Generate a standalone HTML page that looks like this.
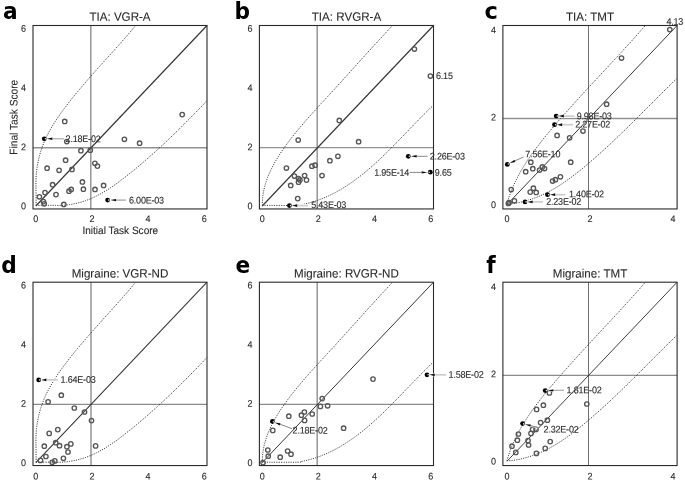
<!DOCTYPE html>
<html><head><meta charset="utf-8"><title>Task score scatter plots</title>
<style>
html,body{margin:0;padding:0;background:#fff;}
svg{display:block;font-family:"Liberation Sans",sans-serif;}
</style></head>
<body>
<svg width="685" height="481" viewBox="0 0 685 481">
<rect width="685" height="481" fill="#fff"/>
<path d="M90.80 25.50V208.95" stroke="#929292" stroke-width="1.45" fill="none"/>
<path d="M33.00 147.75H207.00" stroke="#929292" stroke-width="1.45" fill="none"/>
<path d="M36.1 205.3 C36.1 202.5 36.0 192.0 36.0 188.5 C36.0 185.0 35.9 185.7 35.9 184.3 C35.9 182.8 35.9 181.4 36.0 180.0 C36.0 178.6 36.1 177.2 36.2 175.8 C36.3 174.4 36.4 173.1 36.5 171.7 C36.7 170.3 36.9 168.9 37.1 167.5 C37.3 166.2 37.5 164.8 37.8 163.5 C38.0 162.1 38.3 160.7 38.6 159.4 C38.9 158.1 39.2 156.7 39.6 155.4 C40.0 154.1 40.3 152.7 40.7 151.4 C41.2 150.1 41.6 148.8 42.0 147.5 C42.5 146.2 43.0 145.0 43.5 143.7 C44.0 142.4 44.5 141.1 45.1 139.9 C45.7 138.6 46.2 137.4 46.8 136.2 C47.5 134.9 48.1 133.7 48.7 132.5 C49.4 131.3 50.0 130.1 50.7 128.9 C51.4 127.7 52.1 126.5 52.8 125.3 C53.5 124.1 54.3 123.0 55.0 121.8 C55.8 120.6 56.5 119.5 57.3 118.3 C58.1 117.2 58.9 116.0 59.7 114.9 C60.5 113.7 61.3 112.6 62.1 111.5 C62.9 110.4 63.7 109.2 64.6 108.1 C65.4 107.0 66.3 105.9 67.1 104.8 C67.9 103.7 68.8 102.6 69.6 101.5 C70.5 100.4 71.4 99.3 72.2 98.2 C73.1 97.2 74.0 96.1 74.8 95.0 C75.7 93.9 76.6 92.8 77.5 91.8 C78.4 90.7 79.3 89.6 80.2 88.6 C81.1 87.5 82.0 86.5 82.9 85.4 C83.8 84.4 84.7 83.3 85.6 82.2 C86.5 81.2 87.4 80.2 88.3 79.1 C89.2 78.1 90.1 77.0 91.0 76.0 C92.0 74.9 92.9 73.9 93.8 72.9 C94.7 71.8 95.7 70.8 96.6 69.8 C97.5 68.7 98.4 67.7 99.4 66.7 C100.3 65.6 101.2 64.6 102.1 63.6 C103.1 62.5 104.0 61.5 104.9 60.5 C105.9 59.4 106.8 58.4 107.7 57.4 C108.7 56.4 109.6 55.3 110.5 54.3 C111.4 53.3 112.4 52.2 113.3 51.2 C114.2 50.2 115.1 49.1 116.1 48.1 C117.0 47.1 117.9 46.0 118.8 45.0 C119.8 44.0 120.7 42.9 121.6 41.9 C122.5 40.8 123.4 39.8 124.3 38.8 C125.2 37.7 126.2 36.7 127.1 35.6 C128.0 34.6 128.9 33.5 129.8 32.5 C130.7 31.4 131.6 30.4 132.4 29.3 C133.3 28.2 134.7 26.6 135.1 26.1" fill="none" stroke="#222" stroke-width="0.9" stroke-dasharray="1.1 1.25"/>
<path d="M36.1 205.3 C38.9 205.3 49.5 205.3 53.0 205.3 C56.5 205.3 55.8 205.4 57.2 205.4 C58.6 205.5 60.0 205.4 61.4 205.4 C62.8 205.3 64.2 205.2 65.5 205.1 C66.9 205.0 68.2 204.8 69.6 204.6 C70.9 204.4 72.3 204.2 73.6 203.9 C74.9 203.7 76.2 203.4 77.5 203.1 C78.9 202.8 80.1 202.4 81.4 202.0 C82.7 201.6 84.0 201.2 85.3 200.8 C86.5 200.4 87.8 199.9 89.0 199.4 C90.3 198.9 91.5 198.4 92.7 197.8 C93.9 197.3 95.1 196.7 96.3 196.1 C97.5 195.5 98.7 194.9 99.9 194.2 C101.1 193.6 102.3 192.9 103.4 192.2 C104.6 191.6 105.7 190.9 106.9 190.1 C108.0 189.4 109.1 188.7 110.3 187.9 C111.4 187.2 112.5 186.4 113.6 185.6 C114.8 184.9 115.9 184.1 117.0 183.3 C118.1 182.5 119.2 181.7 120.3 180.8 C121.3 180.0 122.4 179.2 123.5 178.4 C124.6 177.5 125.7 176.7 126.7 175.8 C127.8 175.0 128.9 174.1 129.9 173.3 C131.0 172.4 132.1 171.6 133.1 170.7 C134.2 169.9 135.2 169.0 136.3 168.1 C137.3 167.3 138.4 166.4 139.4 165.5 C140.5 164.6 141.5 163.8 142.5 162.9 C143.6 162.0 144.6 161.1 145.6 160.2 C146.7 159.3 147.7 158.4 148.7 157.5 C149.7 156.6 150.7 155.7 151.8 154.8 C152.8 153.9 153.8 153.0 154.8 152.1 C155.8 151.2 156.8 150.3 157.8 149.4 C158.8 148.5 159.8 147.6 160.8 146.6 C161.8 145.7 162.8 144.8 163.8 143.9 C164.8 142.9 165.8 142.0 166.8 141.1 C167.8 140.1 168.7 139.2 169.7 138.3 C170.7 137.3 171.7 136.4 172.7 135.4 C173.6 134.5 174.6 133.6 175.6 132.6 C176.6 131.7 177.5 130.7 178.5 129.8 C179.5 128.8 180.4 127.9 181.4 126.9 C182.3 125.9 183.3 125.0 184.3 124.0 C185.2 123.1 186.2 122.1 187.1 121.1 C188.1 120.2 189.1 119.2 190.0 118.2 C191.0 117.3 191.9 116.3 192.9 115.3 C193.8 114.4 194.8 113.4 195.7 112.4 C196.7 111.5 197.6 110.5 198.5 109.5 C199.5 108.5 200.4 107.6 201.4 106.6 C202.3 105.6 203.2 104.6 204.2 103.6 C205.1 102.7 206.5 101.2 207.0 100.7" fill="none" stroke="#222" stroke-width="0.9" stroke-dasharray="1.1 1.25"/>
<path d="M35.81 205.99L207.00 25.50" stroke="#363636" stroke-width="1.15" fill="none"/>
<g fill="none" stroke="#565656" stroke-width="1.35">
<circle cx="64.7" cy="121.4" r="2.2"/>
<circle cx="66.8" cy="141.5" r="2.2"/>
<circle cx="80.9" cy="150.7" r="2.2"/>
<circle cx="90.3" cy="150.2" r="2.2"/>
<circle cx="124.4" cy="139.3" r="2.2"/>
<circle cx="139.6" cy="143.2" r="2.2"/>
<circle cx="65.6" cy="160.2" r="2.2"/>
<circle cx="47.1" cy="168.2" r="2.2"/>
<circle cx="59.1" cy="170.3" r="2.2"/>
<circle cx="72.0" cy="169.4" r="2.2"/>
<circle cx="94.9" cy="163.3" r="2.2"/>
<circle cx="97.4" cy="166.1" r="2.2"/>
<circle cx="82.4" cy="181.9" r="2.2"/>
<circle cx="52.6" cy="184.7" r="2.2"/>
<circle cx="103.6" cy="185.4" r="2.2"/>
<circle cx="71.2" cy="189.4" r="2.2"/>
<circle cx="69.0" cy="191.2" r="2.2"/>
<circle cx="83.4" cy="189.2" r="2.2"/>
<circle cx="95.0" cy="189.4" r="2.2"/>
<circle cx="45.0" cy="192.6" r="2.2"/>
<circle cx="56.0" cy="194.6" r="2.2"/>
<circle cx="39.4" cy="196.8" r="2.2"/>
<circle cx="43.4" cy="201.6" r="2.2"/>
<circle cx="44.2" cy="203.8" r="2.2"/>
<circle cx="63.8" cy="204.4" r="2.2"/>
<circle cx="182.2" cy="114.6" r="2.2"/>
</g>
<rect x="33.00" y="25.50" width="174.00" height="183.45" fill="none" stroke="#2a2a2a" stroke-width="1.1"/>
<text transform="translate(120.00 20.80) rotate(0.05) scale(1 1.040)" text-anchor="middle" font-size="11.60" fill="#2a2a2a" stroke="#2a2a2a" stroke-width="0.1">TIA: VGR-A</text>
<text transform="translate(3.00 18.70) scale(1 1.055)" font-family="'DejaVu Sans',sans-serif" font-weight="bold" font-size="21.7" fill="#000">a</text>
<text transform="translate(35.81 222.10) rotate(0.05) scale(1 1.060)" text-anchor="middle" font-size="9.00" fill="#2a2a2a" stroke="#2a2a2a" stroke-width="0.1">0</text>
<text transform="translate(23.60 209.34) rotate(0.05) scale(1 1.060)" text-anchor="middle" font-size="9.00" fill="#2a2a2a" stroke="#2a2a2a" stroke-width="0.1">0</text>
<text transform="translate(91.94 222.10) rotate(0.05) scale(1 1.060)" text-anchor="middle" font-size="9.00" fill="#2a2a2a" stroke="#2a2a2a" stroke-width="0.1">2</text>
<text transform="translate(23.60 150.16) rotate(0.05) scale(1 1.060)" text-anchor="middle" font-size="9.00" fill="#2a2a2a" stroke="#2a2a2a" stroke-width="0.1">2</text>
<text transform="translate(148.06 222.10) rotate(0.05) scale(1 1.060)" text-anchor="middle" font-size="9.00" fill="#2a2a2a" stroke="#2a2a2a" stroke-width="0.1">4</text>
<text transform="translate(23.60 90.99) rotate(0.05) scale(1 1.060)" text-anchor="middle" font-size="9.00" fill="#2a2a2a" stroke="#2a2a2a" stroke-width="0.1">4</text>
<text transform="translate(204.19 222.10) rotate(0.05) scale(1 1.060)" text-anchor="middle" font-size="9.00" fill="#2a2a2a" stroke="#2a2a2a" stroke-width="0.1">6</text>
<text transform="translate(23.60 31.81) rotate(0.05) scale(1 1.060)" text-anchor="middle" font-size="9.00" fill="#2a2a2a" stroke="#2a2a2a" stroke-width="0.1">6</text>
<circle cx="44.3" cy="138.8" r="2.4" fill="#000"/><circle cx="45.45" cy="138.80" r="0.8" fill="#e4e4e4"/><path d="M63.9 138.8L46.8 138.8" stroke="#fff" stroke-opacity="0.80" stroke-width="2.6" fill="none"/><path d="M63.9 138.8L52.4 138.8" stroke="#9a9a9a" stroke-width="1.00" fill="none"/><path d="M46.8 138.8L52.4 137.6L52.4 140.0Z" fill="#111"/>
<text transform="translate(65.60 142.10) rotate(0.05) scale(1 1.060)" text-anchor="start" font-size="9.00" letter-spacing="-0.20" fill="#2a2a2a" stroke="#2a2a2a" stroke-width="0.1">2.18E-02</text>
<circle cx="107.6" cy="200.1" r="2.4" fill="#000"/><circle cx="108.75" cy="200.10" r="0.8" fill="#e4e4e4"/><path d="M125.8 200.1L110.2 200.1" stroke="#fff" stroke-opacity="0.70" stroke-width="2.4" fill="none"/><path d="M125.8 200.1L116.0 200.1" stroke="#555" stroke-width="0.70" fill="none"/><path d="M110.2 200.1L116.0 198.9L116.0 201.3Z" fill="#111"/>
<text transform="translate(129.00 203.40) rotate(0.05) scale(1 1.060)" text-anchor="start" font-size="9.00" letter-spacing="-0.20" fill="#2a2a2a" stroke="#2a2a2a" stroke-width="0.1">6.00E-03</text>
<text transform="translate(120.30 234.00) rotate(0.05) scale(1 1.060)" text-anchor="middle" font-size="10.05" fill="#2a2a2a" stroke="#2a2a2a" stroke-width="0.1">Initial Task Score</text>
<text transform="translate(17.40 117.20) rotate(-89.95) scale(1 1.070)" text-anchor="middle" font-size="10.17" fill="#2a2a2a" stroke="#2a2a2a" stroke-width="0.1">Final Task Score</text>
<path d="M317.20 25.50V208.95" stroke="#929292" stroke-width="1.45" fill="none"/>
<path d="M259.40 147.60H433.50" stroke="#929292" stroke-width="1.45" fill="none"/>
<path d="M262.3 205.4 C262.3 204.6 262.3 202.1 262.5 200.5 C262.6 198.8 262.7 197.2 262.9 195.6 C263.1 194.0 263.4 192.4 263.7 190.9 C264.0 189.3 264.4 187.8 264.8 186.2 C265.2 184.7 265.7 183.2 266.2 181.7 C266.6 180.2 267.2 178.7 267.7 177.2 C268.3 175.7 268.9 174.3 269.6 172.8 C270.2 171.4 270.9 169.9 271.6 168.5 C272.3 167.1 273.0 165.7 273.8 164.3 C274.5 162.9 275.3 161.5 276.1 160.2 C276.9 158.8 277.8 157.4 278.6 156.1 C279.5 154.7 280.4 153.4 281.2 152.0 C282.1 150.7 283.0 149.4 284.0 148.1 C284.9 146.8 285.8 145.5 286.8 144.2 C287.7 142.9 288.7 141.6 289.6 140.3 C290.6 139.0 291.6 137.8 292.6 136.5 C293.6 135.2 294.6 134.0 295.6 132.7 C296.6 131.5 297.6 130.2 298.7 129.0 C299.7 127.8 300.7 126.5 301.8 125.3 C302.8 124.1 303.9 122.8 304.9 121.6 C306.0 120.4 307.0 119.2 308.1 118.0 C309.2 116.8 310.3 115.6 311.3 114.4 C312.4 113.2 313.5 112.0 314.6 110.8 C315.7 109.6 316.8 108.4 317.8 107.2 C318.9 106.0 320.0 104.8 321.1 103.6 C322.2 102.5 323.3 101.3 324.4 100.1 C325.5 98.9 326.6 97.7 327.7 96.5 C328.8 95.4 329.9 94.2 330.9 93.0 C332.0 91.8 333.1 90.6 334.2 89.5 C335.3 88.3 336.3 87.1 337.4 85.9 C338.5 84.7 339.6 83.5 340.6 82.4 C341.7 81.2 342.8 80.0 343.9 78.8 C344.9 77.6 346.0 76.5 347.1 75.3 C348.1 74.1 349.2 72.9 350.3 71.7 C351.3 70.5 352.4 69.4 353.5 68.2 C354.5 67.0 355.6 65.8 356.7 64.6 C357.7 63.4 358.8 62.3 359.9 61.1 C360.9 59.9 362.0 58.7 363.1 57.5 C364.2 56.3 365.2 55.2 366.3 54.0 C367.4 52.8 368.4 51.6 369.5 50.4 C370.6 49.2 371.7 48.1 372.7 46.9 C373.8 45.7 374.9 44.5 376.0 43.3 C377.1 42.1 378.1 41.0 379.2 39.8 C380.3 38.6 381.4 37.4 382.5 36.2 C383.6 35.1 384.7 33.9 385.8 32.7 C386.9 31.5 388.0 30.3 389.1 29.1 C390.2 28.0 391.8 26.2 392.4 25.6" fill="none" stroke="#222" stroke-width="0.9" stroke-dasharray="1.1 1.25"/>
<path d="M262.3 205.4 C268.2 205.4 291.0 205.5 297.5 205.4 C304.0 205.3 300.0 205.0 301.2 204.8 C302.4 204.5 303.6 204.3 304.8 204.0 C306.0 203.7 307.2 203.4 308.4 203.1 C309.6 202.8 310.7 202.5 311.9 202.1 C313.1 201.8 314.2 201.4 315.4 201.1 C316.5 200.7 317.7 200.3 318.8 199.9 C319.9 199.5 321.1 199.0 322.2 198.6 C323.3 198.2 324.4 197.7 325.5 197.2 C326.6 196.8 327.7 196.3 328.8 195.8 C329.9 195.3 330.9 194.7 332.0 194.2 C333.1 193.7 334.1 193.1 335.2 192.6 C336.2 192.0 337.3 191.4 338.3 190.8 C339.4 190.3 340.4 189.7 341.4 189.1 C342.5 188.4 343.5 187.8 344.5 187.2 C345.5 186.5 346.5 185.9 347.5 185.2 C348.5 184.6 349.5 183.9 350.5 183.2 C351.5 182.6 352.5 181.9 353.5 181.2 C354.5 180.5 355.4 179.7 356.4 179.0 C357.4 178.3 358.3 177.6 359.3 176.8 C360.2 176.1 361.2 175.4 362.1 174.6 C363.1 173.8 364.0 173.1 365.0 172.3 C365.9 171.5 366.8 170.7 367.8 170.0 C368.7 169.2 369.6 168.4 370.5 167.6 C371.5 166.8 372.4 166.0 373.3 165.1 C374.2 164.3 375.1 163.5 376.0 162.7 C376.9 161.9 377.8 161.0 378.7 160.2 C379.6 159.4 380.5 158.5 381.4 157.7 C382.3 156.8 383.2 156.0 384.1 155.1 C384.9 154.3 385.8 153.4 386.7 152.5 C387.6 151.7 388.4 150.8 389.3 149.9 C390.2 149.1 391.1 148.2 391.9 147.3 C392.8 146.4 393.7 145.6 394.5 144.7 C395.4 143.8 396.2 142.9 397.1 142.1 C398.0 141.2 398.8 140.3 399.7 139.4 C400.5 138.5 401.4 137.6 402.2 136.8 C403.1 135.9 403.9 135.0 404.8 134.1 C405.6 133.2 406.5 132.3 407.3 131.5 C408.2 130.6 409.0 129.7 409.9 128.8 C410.7 127.9 411.6 127.1 412.4 126.2 C413.3 125.3 414.1 124.4 414.9 123.6 C415.8 122.7 416.6 121.8 417.5 121.0 C418.3 120.1 419.2 119.2 420.0 118.4 C420.8 117.5 421.7 116.7 422.5 115.8 C423.4 115.0 424.2 114.1 425.1 113.3 C425.9 112.5 426.8 111.6 427.6 110.8 C428.5 110.0 429.3 109.1 430.1 108.3 C431.0 107.5 432.3 106.3 432.7 105.9" fill="none" stroke="#222" stroke-width="0.9" stroke-dasharray="1.1 1.25"/>
<path d="M262.21 205.99L433.50 25.50" stroke="#363636" stroke-width="1.15" fill="none"/>
<g fill="none" stroke="#565656" stroke-width="1.35">
<circle cx="339.3" cy="120.4" r="2.2"/>
<circle cx="298.2" cy="140.0" r="2.2"/>
<circle cx="358.6" cy="141.7" r="2.2"/>
<circle cx="337.9" cy="156.3" r="2.2"/>
<circle cx="329.9" cy="160.7" r="2.2"/>
<circle cx="286.4" cy="168.0" r="2.2"/>
<circle cx="315.1" cy="165.2" r="2.2"/>
<circle cx="311.9" cy="166.2" r="2.2"/>
<circle cx="322.0" cy="175.5" r="2.2"/>
<circle cx="294.4" cy="176.0" r="2.2"/>
<circle cx="304.6" cy="175.5" r="2.2"/>
<circle cx="298.5" cy="178.5" r="2.2"/>
<circle cx="299.9" cy="179.9" r="2.2"/>
<circle cx="306.5" cy="180.1" r="2.2"/>
<circle cx="298.5" cy="182.2" r="2.2"/>
<circle cx="290.7" cy="185.4" r="2.2"/>
<circle cx="297.7" cy="198.6" r="2.2"/>
<circle cx="414.4" cy="49.0" r="2.2"/>
<circle cx="430.4" cy="76.0" r="2.2"/>
</g>
<rect x="259.40" y="25.50" width="174.10" height="183.45" fill="none" stroke="#2a2a2a" stroke-width="1.1"/>
<text transform="translate(346.45 20.80) rotate(0.05) scale(1 1.040)" text-anchor="middle" font-size="11.60" fill="#2a2a2a" stroke="#2a2a2a" stroke-width="0.1">TIA: RVGR-A</text>
<text transform="translate(234.50 18.70) scale(1 1.055)" font-family="'DejaVu Sans',sans-serif" font-weight="bold" font-size="21.7" fill="#000">b</text>
<text transform="translate(262.21 222.10) rotate(0.05) scale(1 1.060)" text-anchor="middle" font-size="9.00" fill="#2a2a2a" stroke="#2a2a2a" stroke-width="0.1">0</text>
<text transform="translate(250.00 209.34) rotate(0.05) scale(1 1.060)" text-anchor="middle" font-size="9.00" fill="#2a2a2a" stroke="#2a2a2a" stroke-width="0.1">0</text>
<text transform="translate(318.37 222.10) rotate(0.05) scale(1 1.060)" text-anchor="middle" font-size="9.00" fill="#2a2a2a" stroke="#2a2a2a" stroke-width="0.1">2</text>
<text transform="translate(250.00 150.16) rotate(0.05) scale(1 1.060)" text-anchor="middle" font-size="9.00" fill="#2a2a2a" stroke="#2a2a2a" stroke-width="0.1">2</text>
<text transform="translate(374.53 222.10) rotate(0.05) scale(1 1.060)" text-anchor="middle" font-size="9.00" fill="#2a2a2a" stroke="#2a2a2a" stroke-width="0.1">4</text>
<text transform="translate(250.00 90.99) rotate(0.05) scale(1 1.060)" text-anchor="middle" font-size="9.00" fill="#2a2a2a" stroke="#2a2a2a" stroke-width="0.1">4</text>
<text transform="translate(430.69 222.10) rotate(0.05) scale(1 1.060)" text-anchor="middle" font-size="9.00" fill="#2a2a2a" stroke="#2a2a2a" stroke-width="0.1">6</text>
<text transform="translate(250.00 31.81) rotate(0.05) scale(1 1.060)" text-anchor="middle" font-size="9.00" fill="#2a2a2a" stroke="#2a2a2a" stroke-width="0.1">6</text>
<circle cx="289.4" cy="205.6" r="2.4" fill="#000"/><circle cx="290.55" cy="205.60" r="0.8" fill="#e4e4e4"/><path d="M308.0 205.6L292.0 205.6" stroke="#fff" stroke-opacity="0.90" stroke-width="3.2" fill="none"/><path d="M308.0 205.6L297.2 205.6" stroke="#cdcdcd" stroke-width="1.70" fill="none"/><path d="M292.0 205.6L297.2 204.2L297.2 207.0Z" fill="#111"/>
<text transform="translate(311.20 208.00) rotate(0.05) scale(1 1.060)" text-anchor="start" font-size="9.00" letter-spacing="-0.20" fill="#2a2a2a" stroke="#2a2a2a" stroke-width="0.1">5.43E-03</text>
<circle cx="408.3" cy="156.3" r="2.4" fill="#000"/><circle cx="409.45" cy="156.30" r="0.8" fill="#e4e4e4"/><path d="M427.5 156.3L410.9 156.3" stroke="#fff" stroke-opacity="0.70" stroke-width="2.4" fill="none"/><path d="M427.5 156.3L416.7 156.3" stroke="#555" stroke-width="0.70" fill="none"/><path d="M410.9 156.3L416.7 155.1L416.7 157.5Z" fill="#111"/>
<text transform="translate(429.80 159.40) rotate(0.05) scale(1 1.060)" text-anchor="start" font-size="9.00" letter-spacing="-0.20" fill="#2a2a2a" stroke="#2a2a2a" stroke-width="0.1">2.26E-03</text>
<circle cx="430.3" cy="172.2" r="2.4" fill="#000"/><circle cx="429.15" cy="172.20" r="0.8" fill="#e4e4e4"/><path d="M409.6 172.4L427.4 172.4" stroke="#fff" stroke-opacity="0.70" stroke-width="2.4" fill="none"/><path d="M409.6 172.4L421.6 172.4" stroke="#555" stroke-width="0.70" fill="none"/><path d="M427.4 172.4L421.6 173.6L421.6 171.2Z" fill="#111"/>
<text transform="translate(409.10 175.80) rotate(0.05) scale(1 1.060)" text-anchor="end" font-size="9.00" letter-spacing="-0.20" fill="#2a2a2a" stroke="#2a2a2a" stroke-width="0.1">1.95E-14</text>
<text transform="translate(434.80 175.80) rotate(0.05) scale(1 1.060)" text-anchor="start" font-size="9.00" letter-spacing="-0.20" fill="#2a2a2a" stroke="#2a2a2a" stroke-width="0.1">9.65</text>
<text transform="translate(436.00 78.90) rotate(0.05) scale(1 1.060)" text-anchor="start" font-size="9.00" letter-spacing="-0.20" fill="#2a2a2a" stroke="#2a2a2a" stroke-width="0.1">6.15</text>
<path d="M588.50 25.50V208.95" stroke="#707070" stroke-width="1.00" fill="none"/>
<path d="M502.90 118.40H677.10" stroke="#929292" stroke-width="1.45" fill="none"/>
<path d="M506.9 203.9 C507.1 203.1 507.8 200.8 508.3 199.2 C508.8 197.7 509.3 196.2 509.9 194.6 C510.4 193.1 511.0 191.6 511.6 190.1 C512.2 188.6 512.8 187.2 513.5 185.7 C514.1 184.2 514.8 182.8 515.5 181.4 C516.2 179.9 516.9 178.5 517.7 177.1 C518.4 175.7 519.2 174.2 519.9 172.8 C520.7 171.5 521.5 170.1 522.3 168.7 C523.1 167.3 524.0 165.9 524.8 164.6 C525.7 163.2 526.6 161.9 527.4 160.5 C528.3 159.2 529.2 157.9 530.1 156.6 C531.0 155.2 532.0 153.9 532.9 152.6 C533.9 151.3 534.8 150.0 535.8 148.7 C536.7 147.4 537.7 146.1 538.7 144.9 C539.7 143.6 540.7 142.3 541.7 141.0 C542.7 139.8 543.7 138.5 544.7 137.2 C545.7 136.0 546.8 134.7 547.8 133.5 C548.8 132.2 549.9 131.0 550.9 129.8 C552.0 128.5 553.0 127.3 554.1 126.1 C555.1 124.8 556.2 123.6 557.2 122.4 C558.3 121.1 559.4 119.9 560.4 118.7 C561.5 117.5 562.6 116.3 563.6 115.1 C564.7 113.8 565.8 112.6 566.9 111.4 C567.9 110.2 569.0 109.0 570.1 107.8 C571.2 106.6 572.3 105.4 573.3 104.2 C574.4 103.0 575.5 101.8 576.6 100.6 C577.7 99.4 578.8 98.2 579.9 97.0 C581.0 95.8 582.1 94.6 583.2 93.4 C584.2 92.3 585.3 91.1 586.4 89.9 C587.5 88.7 588.6 87.5 589.7 86.3 C590.8 85.1 591.9 83.9 593.0 82.8 C594.1 81.6 595.2 80.4 596.3 79.2 C597.4 78.0 598.5 76.9 599.6 75.7 C600.7 74.5 601.8 73.3 602.9 72.1 C604.0 70.9 605.1 69.8 606.2 68.6 C607.3 67.4 608.4 66.2 609.5 65.0 C610.6 63.9 611.7 62.7 612.8 61.5 C613.9 60.3 615.0 59.1 616.1 57.9 C617.2 56.8 618.3 55.6 619.4 54.4 C620.5 53.2 621.6 52.0 622.7 50.8 C623.7 49.6 624.8 48.4 625.9 47.2 C627.0 46.1 628.1 44.9 629.2 43.7 C630.3 42.5 631.3 41.3 632.4 40.1 C633.5 38.9 634.6 37.7 635.6 36.5 C636.7 35.3 637.8 34.1 638.8 32.9 C639.9 31.7 641.0 30.5 642.0 29.2 C643.1 28.0 644.7 26.2 645.2 25.6" fill="none" stroke="#222" stroke-width="0.9" stroke-dasharray="1.1 1.25"/>
<path d="M506.9 203.9 C507.6 203.9 509.6 203.9 511.0 203.8 C512.4 203.7 514.0 203.4 515.5 203.2 C517.0 202.9 518.5 202.7 520.0 202.4 C521.4 202.0 522.9 201.7 524.3 201.3 C525.8 201.0 527.2 200.5 528.6 200.1 C530.1 199.7 531.5 199.2 532.8 198.7 C534.2 198.2 535.6 197.7 537.0 197.2 C538.4 196.6 539.7 196.0 541.1 195.4 C542.4 194.8 543.7 194.2 545.1 193.6 C546.4 192.9 547.7 192.2 549.0 191.6 C550.3 190.9 551.6 190.1 552.9 189.4 C554.2 188.7 555.4 187.9 556.7 187.2 C558.0 186.4 559.2 185.6 560.5 184.8 C561.7 184.0 563.0 183.1 564.2 182.3 C565.4 181.5 566.7 180.6 567.9 179.7 C569.1 178.9 570.3 178.0 571.5 177.1 C572.7 176.2 573.9 175.3 575.1 174.4 C576.3 173.4 577.5 172.5 578.6 171.6 C579.8 170.6 581.0 169.7 582.2 168.7 C583.3 167.8 584.5 166.8 585.6 165.8 C586.8 164.9 587.9 163.9 589.1 162.9 C590.2 161.9 591.4 161.0 592.5 160.0 C593.6 159.0 594.8 158.0 595.9 157.0 C597.0 156.0 598.2 155.0 599.3 154.0 C600.4 153.0 601.5 152.0 602.6 151.0 C603.7 150.0 604.8 149.0 606.0 147.9 C607.1 146.9 608.2 145.9 609.3 144.9 C610.4 143.8 611.5 142.8 612.6 141.8 C613.6 140.8 614.7 139.7 615.8 138.7 C616.9 137.7 618.0 136.6 619.1 135.6 C620.2 134.5 621.2 133.5 622.3 132.5 C623.4 131.4 624.5 130.4 625.6 129.3 C626.6 128.3 627.7 127.2 628.8 126.2 C629.8 125.1 630.9 124.1 632.0 123.0 C633.0 122.0 634.1 120.9 635.2 119.9 C636.2 118.8 637.3 117.8 638.4 116.7 C639.4 115.6 640.5 114.6 641.5 113.5 C642.6 112.5 643.7 111.4 644.7 110.3 C645.8 109.3 646.8 108.2 647.9 107.2 C648.9 106.1 650.0 105.1 651.1 104.0 C652.1 102.9 653.2 101.9 654.2 100.8 C655.3 99.8 656.3 98.7 657.4 97.7 C658.5 96.6 659.5 95.5 660.6 94.5 C661.6 93.4 662.7 92.4 663.7 91.3 C664.8 90.3 665.9 89.2 666.9 88.2 C668.0 87.1 669.0 86.1 670.1 85.0 C671.2 84.0 672.2 83.0 673.3 81.9 C674.4 80.9 676.0 79.3 676.5 78.8" fill="none" stroke="#222" stroke-width="0.9" stroke-dasharray="1.1 1.25"/>
<path d="M507.05 204.58L677.10 25.50" stroke="#363636" stroke-width="0.98" fill="none"/>
<g fill="none" stroke="#565656" stroke-width="1.35">
<circle cx="669.8" cy="29.5" r="2.2"/>
<circle cx="621.5" cy="58.0" r="2.2"/>
<circle cx="606.6" cy="104.2" r="2.2"/>
<circle cx="583.0" cy="131.0" r="2.2"/>
<circle cx="569.6" cy="137.8" r="2.2"/>
<circle cx="557.1" cy="135.4" r="2.2"/>
<circle cx="570.7" cy="162.2" r="2.2"/>
<circle cx="530.8" cy="162.2" r="2.2"/>
<circle cx="532.8" cy="168.7" r="2.2"/>
<circle cx="525.7" cy="171.7" r="2.2"/>
<circle cx="539.6" cy="170.0" r="2.2"/>
<circle cx="542.3" cy="166.9" r="2.2"/>
<circle cx="544.5" cy="168.5" r="2.2"/>
<circle cx="560.4" cy="176.8" r="2.2"/>
<circle cx="555.4" cy="179.7" r="2.2"/>
<circle cx="552.6" cy="181.0" r="2.2"/>
<circle cx="511.2" cy="189.5" r="2.2"/>
<circle cx="533.4" cy="188.2" r="2.2"/>
<circle cx="530.2" cy="192.1" r="2.2"/>
<circle cx="536.2" cy="192.4" r="2.2"/>
<circle cx="514.4" cy="200.8" r="2.2"/>
<circle cx="509.1" cy="202.6" r="2.2"/>
<circle cx="508.4" cy="203.4" r="2.2"/>
</g>
<rect x="502.90" y="25.50" width="174.20" height="183.45" fill="none" stroke="#2a2a2a" stroke-width="1.1"/>
<text transform="translate(590.00 20.80) rotate(0.05) scale(1 1.040)" text-anchor="middle" font-size="11.60" fill="#2a2a2a" stroke="#2a2a2a" stroke-width="0.1">TIA: TMT</text>
<text transform="translate(484.40 19.10) scale(1 1.055)" font-family="'DejaVu Sans',sans-serif" font-weight="bold" font-size="22.6" fill="#000">c</text>
<text transform="translate(507.05 222.10) rotate(0.05) scale(1 1.060)" text-anchor="middle" font-size="9.00" fill="#2a2a2a" stroke="#2a2a2a" stroke-width="0.1">0</text>
<text transform="translate(493.50 207.93) rotate(0.05) scale(1 1.060)" text-anchor="middle" font-size="9.00" fill="#2a2a2a" stroke="#2a2a2a" stroke-width="0.1">0</text>
<text transform="translate(590.00 222.10) rotate(0.05) scale(1 1.060)" text-anchor="middle" font-size="9.00" fill="#2a2a2a" stroke="#2a2a2a" stroke-width="0.1">2</text>
<text transform="translate(493.50 120.58) rotate(0.05) scale(1 1.060)" text-anchor="middle" font-size="9.00" fill="#2a2a2a" stroke="#2a2a2a" stroke-width="0.1">2</text>
<text transform="translate(672.95 222.10) rotate(0.05) scale(1 1.060)" text-anchor="middle" font-size="9.00" fill="#2a2a2a" stroke="#2a2a2a" stroke-width="0.1">4</text>
<text transform="translate(493.50 33.22) rotate(0.05) scale(1 1.060)" text-anchor="middle" font-size="9.00" fill="#2a2a2a" stroke="#2a2a2a" stroke-width="0.1">4</text>
<circle cx="556.2" cy="116.1" r="2.4" fill="#000"/><circle cx="557.35" cy="116.10" r="0.8" fill="#e4e4e4"/><path d="M574.5 116.1L558.7 116.1" stroke="#fff" stroke-opacity="0.90" stroke-width="3.2" fill="none"/><path d="M574.5 116.1L563.9 116.1" stroke="#cdcdcd" stroke-width="1.70" fill="none"/><path d="M558.7 116.1L563.9 114.6L563.9 117.5Z" fill="#111"/>
<text transform="translate(576.70 119.20) rotate(0.05) scale(1 1.060)" text-anchor="start" font-size="9.00" letter-spacing="-0.20" fill="#2a2a2a" stroke="#2a2a2a" stroke-width="0.1">9.98E-03</text>
<circle cx="554.5" cy="124.7" r="2.4" fill="#000"/><circle cx="555.65" cy="124.70" r="0.8" fill="#e4e4e4"/><path d="M573.0 124.7L557.0 124.7" stroke="#fff" stroke-opacity="0.90" stroke-width="3.2" fill="none"/><path d="M573.0 124.7L562.2 124.7" stroke="#cdcdcd" stroke-width="1.70" fill="none"/><path d="M557.0 124.7L562.2 123.2L562.2 126.2Z" fill="#111"/>
<text transform="translate(575.20 127.40) rotate(0.05) scale(1 1.060)" text-anchor="start" font-size="9.00" letter-spacing="-0.20" fill="#2a2a2a" stroke="#2a2a2a" stroke-width="0.1">2.27E-02</text>
<circle cx="507.3" cy="164.4" r="2.4" fill="#000"/><circle cx="508.35" cy="163.93" r="0.8" fill="#e4e4e4"/><path d="M523.5 157.0L509.6 163.2" stroke="#fff" stroke-opacity="0.70" stroke-width="2.4" fill="none"/><path d="M523.5 157.0L514.9 160.8" stroke="#555" stroke-width="0.70" fill="none"/><path d="M509.6 163.2L514.4 159.7L515.4 161.9Z" fill="#111"/>
<text transform="translate(525.30 157.20) rotate(0.05) scale(1 1.060)" text-anchor="start" font-size="9.00" letter-spacing="-0.20" fill="#2a2a2a" stroke="#2a2a2a" stroke-width="0.1">7.56E-10</text>
<circle cx="547.5" cy="194.7" r="2.4" fill="#000"/><circle cx="548.65" cy="194.70" r="0.8" fill="#e4e4e4"/><path d="M565.5 194.7L550.0 194.7" stroke="#fff" stroke-opacity="0.90" stroke-width="3.2" fill="none"/><path d="M565.5 194.7L555.2 194.7" stroke="#cdcdcd" stroke-width="1.70" fill="none"/><path d="M550.0 194.7L555.2 193.2L555.2 196.1Z" fill="#111"/>
<text transform="translate(569.00 197.30) rotate(0.05) scale(1 1.060)" text-anchor="start" font-size="9.00" letter-spacing="-0.20" fill="#2a2a2a" stroke="#2a2a2a" stroke-width="0.1">1.40E-02</text>
<circle cx="525.0" cy="201.9" r="2.4" fill="#000"/><circle cx="526.15" cy="201.90" r="0.8" fill="#e4e4e4"/><path d="M543.0 201.9L527.5 201.9" stroke="#fff" stroke-opacity="0.90" stroke-width="3.2" fill="none"/><path d="M543.0 201.9L532.7 201.9" stroke="#cdcdcd" stroke-width="1.70" fill="none"/><path d="M527.5 201.9L532.7 200.5L532.7 203.3Z" fill="#111"/>
<text transform="translate(546.20 204.80) rotate(0.05) scale(1 1.060)" text-anchor="start" font-size="9.00" letter-spacing="-0.20" fill="#2a2a2a" stroke="#2a2a2a" stroke-width="0.1">2.23E-02</text>
<text transform="translate(666.40 24.80) rotate(0.05) scale(1 1.060)" text-anchor="start" font-size="9.00" letter-spacing="-0.20" fill="#2a2a2a" stroke="#2a2a2a" stroke-width="0.1">4.13</text>
<path d="M91.00 282.20V465.55" stroke="#929292" stroke-width="1.45" fill="none"/>
<path d="M33.00 404.30H207.00" stroke="#707070" stroke-width="1.00" fill="none"/>
<path d="M36.1 462.1 C36.1 459.3 36.0 448.8 36.0 445.3 C36.0 441.8 35.9 442.5 35.9 441.1 C35.9 439.6 35.9 438.2 36.0 436.8 C36.0 435.4 36.1 434.0 36.2 432.6 C36.3 431.2 36.4 429.9 36.5 428.5 C36.7 427.1 36.9 425.7 37.1 424.3 C37.3 423.0 37.5 421.6 37.8 420.3 C38.0 418.9 38.3 417.5 38.6 416.2 C38.9 414.9 39.2 413.5 39.6 412.2 C40.0 410.9 40.3 409.5 40.7 408.2 C41.2 406.9 41.6 405.6 42.0 404.3 C42.5 403.0 43.0 401.8 43.5 400.5 C44.0 399.2 44.5 397.9 45.1 396.7 C45.7 395.4 46.2 394.2 46.8 393.0 C47.5 391.7 48.1 390.5 48.7 389.3 C49.4 388.1 50.0 386.9 50.7 385.7 C51.4 384.5 52.1 383.3 52.8 382.1 C53.5 380.9 54.3 379.8 55.0 378.6 C55.8 377.4 56.5 376.3 57.3 375.1 C58.1 374.0 58.9 372.8 59.7 371.7 C60.5 370.5 61.3 369.4 62.1 368.3 C62.9 367.2 63.7 366.0 64.6 364.9 C65.4 363.8 66.3 362.7 67.1 361.6 C67.9 360.5 68.8 359.4 69.6 358.3 C70.5 357.2 71.4 356.1 72.2 355.0 C73.1 354.0 74.0 352.9 74.8 351.8 C75.7 350.7 76.6 349.6 77.5 348.6 C78.4 347.5 79.3 346.4 80.2 345.4 C81.1 344.3 82.0 343.3 82.9 342.2 C83.8 341.2 84.7 340.1 85.6 339.0 C86.5 338.0 87.4 337.0 88.3 335.9 C89.2 334.9 90.1 333.8 91.0 332.8 C92.0 331.7 92.9 330.7 93.8 329.7 C94.7 328.6 95.7 327.6 96.6 326.6 C97.5 325.5 98.4 324.5 99.4 323.5 C100.3 322.4 101.2 321.4 102.1 320.4 C103.1 319.3 104.0 318.3 104.9 317.3 C105.9 316.2 106.8 315.2 107.7 314.2 C108.7 313.2 109.6 312.1 110.5 311.1 C111.4 310.1 112.4 309.0 113.3 308.0 C114.2 307.0 115.1 305.9 116.1 304.9 C117.0 303.9 117.9 302.8 118.8 301.8 C119.8 300.8 120.7 299.7 121.6 298.7 C122.5 297.6 123.4 296.6 124.3 295.6 C125.2 294.5 126.2 293.5 127.1 292.4 C128.0 291.4 128.9 290.3 129.8 289.3 C130.7 288.2 131.6 287.2 132.4 286.1 C133.3 285.0 134.7 283.4 135.1 282.9" fill="none" stroke="#222" stroke-width="0.9" stroke-dasharray="1.1 1.25"/>
<path d="M36.1 462.1 C38.9 462.1 49.5 462.1 53.0 462.1 C56.5 462.1 55.8 462.2 57.2 462.2 C58.6 462.3 60.0 462.2 61.4 462.2 C62.8 462.1 64.2 462.0 65.5 461.9 C66.9 461.8 68.2 461.6 69.6 461.4 C70.9 461.2 72.3 461.0 73.6 460.7 C74.9 460.5 76.2 460.2 77.5 459.9 C78.9 459.6 80.1 459.2 81.4 458.8 C82.7 458.4 84.0 458.0 85.3 457.6 C86.5 457.2 87.8 456.7 89.0 456.2 C90.3 455.7 91.5 455.2 92.7 454.6 C93.9 454.1 95.1 453.5 96.3 452.9 C97.5 452.3 98.7 451.7 99.9 451.0 C101.1 450.4 102.3 449.7 103.4 449.0 C104.6 448.4 105.7 447.7 106.9 446.9 C108.0 446.2 109.1 445.5 110.3 444.7 C111.4 444.0 112.5 443.2 113.6 442.4 C114.8 441.7 115.9 440.9 117.0 440.1 C118.1 439.3 119.2 438.5 120.3 437.6 C121.3 436.8 122.4 436.0 123.5 435.2 C124.6 434.3 125.7 433.5 126.7 432.6 C127.8 431.8 128.9 430.9 129.9 430.1 C131.0 429.2 132.1 428.4 133.1 427.5 C134.2 426.7 135.2 425.8 136.3 424.9 C137.3 424.1 138.4 423.2 139.4 422.3 C140.5 421.4 141.5 420.6 142.5 419.7 C143.6 418.8 144.6 417.9 145.6 417.0 C146.7 416.1 147.7 415.2 148.7 414.3 C149.7 413.4 150.7 412.5 151.8 411.6 C152.8 410.7 153.8 409.8 154.8 408.9 C155.8 408.0 156.8 407.1 157.8 406.2 C158.8 405.3 159.8 404.4 160.8 403.4 C161.8 402.5 162.8 401.6 163.8 400.7 C164.8 399.7 165.8 398.8 166.8 397.9 C167.8 396.9 168.7 396.0 169.7 395.1 C170.7 394.1 171.7 393.2 172.7 392.2 C173.6 391.3 174.6 390.4 175.6 389.4 C176.6 388.5 177.5 387.5 178.5 386.6 C179.5 385.6 180.4 384.7 181.4 383.7 C182.3 382.7 183.3 381.8 184.3 380.8 C185.2 379.9 186.2 378.9 187.1 377.9 C188.1 377.0 189.1 376.0 190.0 375.0 C191.0 374.1 191.9 373.1 192.9 372.1 C193.8 371.2 194.8 370.2 195.7 369.2 C196.7 368.3 197.6 367.3 198.5 366.3 C199.5 365.3 200.4 364.4 201.4 363.4 C202.3 362.4 203.2 361.4 204.2 360.4 C205.1 359.5 206.5 358.0 207.0 357.5" fill="none" stroke="#222" stroke-width="0.9" stroke-dasharray="1.1 1.25"/>
<path d="M35.81 462.59L207.00 282.20" stroke="#363636" stroke-width="1.05" fill="none"/>
<g fill="none" stroke="#565656" stroke-width="1.35">
<circle cx="61.3" cy="395.2" r="2.2"/>
<circle cx="48.1" cy="401.8" r="2.2"/>
<circle cx="74.3" cy="408.0" r="2.2"/>
<circle cx="84.5" cy="412.0" r="2.2"/>
<circle cx="91.5" cy="420.6" r="2.2"/>
<circle cx="57.8" cy="429.6" r="2.2"/>
<circle cx="49.2" cy="433.4" r="2.2"/>
<circle cx="55.7" cy="442.7" r="2.2"/>
<circle cx="44.3" cy="446.2" r="2.2"/>
<circle cx="59.5" cy="445.7" r="2.2"/>
<circle cx="66.9" cy="446.7" r="2.2"/>
<circle cx="70.8" cy="443.9" r="2.2"/>
<circle cx="95.6" cy="445.9" r="2.2"/>
<circle cx="68.0" cy="452.0" r="2.2"/>
<circle cx="45.9" cy="456.5" r="2.2"/>
<circle cx="63.4" cy="458.3" r="2.2"/>
<circle cx="40.5" cy="460.4" r="2.2"/>
<circle cx="54.8" cy="460.9" r="2.2"/>
<circle cx="52.2" cy="462.3" r="2.2"/>
</g>
<rect x="33.00" y="282.20" width="174.00" height="183.35" fill="none" stroke="#2a2a2a" stroke-width="1.1"/>
<text transform="translate(120.00 277.50) rotate(0.05) scale(1 1.040)" text-anchor="middle" font-size="11.60" fill="#2a2a2a" stroke="#2a2a2a" stroke-width="0.1">Migraine: VGR-ND</text>
<text transform="translate(1.20 272.70) scale(1 1.055)" font-family="'DejaVu Sans',sans-serif" font-weight="bold" font-size="21.7" fill="#000">d</text>
<text transform="translate(35.81 479.60) rotate(0.05) scale(1 1.060)" text-anchor="middle" font-size="9.00" fill="#2a2a2a" stroke="#2a2a2a" stroke-width="0.1">0</text>
<text transform="translate(23.60 465.94) rotate(0.05) scale(1 1.060)" text-anchor="middle" font-size="9.00" fill="#2a2a2a" stroke="#2a2a2a" stroke-width="0.1">0</text>
<text transform="translate(91.94 479.60) rotate(0.05) scale(1 1.060)" text-anchor="middle" font-size="9.00" fill="#2a2a2a" stroke="#2a2a2a" stroke-width="0.1">2</text>
<text transform="translate(23.60 406.80) rotate(0.05) scale(1 1.060)" text-anchor="middle" font-size="9.00" fill="#2a2a2a" stroke="#2a2a2a" stroke-width="0.1">2</text>
<text transform="translate(148.06 479.60) rotate(0.05) scale(1 1.060)" text-anchor="middle" font-size="9.00" fill="#2a2a2a" stroke="#2a2a2a" stroke-width="0.1">4</text>
<text transform="translate(23.60 347.65) rotate(0.05) scale(1 1.060)" text-anchor="middle" font-size="9.00" fill="#2a2a2a" stroke="#2a2a2a" stroke-width="0.1">4</text>
<text transform="translate(204.19 479.60) rotate(0.05) scale(1 1.060)" text-anchor="middle" font-size="9.00" fill="#2a2a2a" stroke="#2a2a2a" stroke-width="0.1">6</text>
<text transform="translate(23.60 288.51) rotate(0.05) scale(1 1.060)" text-anchor="middle" font-size="9.00" fill="#2a2a2a" stroke="#2a2a2a" stroke-width="0.1">6</text>
<circle cx="38.7" cy="379.9" r="2.4" fill="#000"/><circle cx="39.85" cy="379.90" r="0.8" fill="#e4e4e4"/><path d="M57.7 379.9L41.2 379.9" stroke="#fff" stroke-opacity="0.90" stroke-width="3.2" fill="none"/><path d="M57.7 379.9L46.4 379.9" stroke="#cdcdcd" stroke-width="1.70" fill="none"/><path d="M41.2 379.9L46.4 378.4L46.4 381.3Z" fill="#111"/>
<text transform="translate(60.60 382.70) rotate(0.05) scale(1 1.060)" text-anchor="start" font-size="9.00" letter-spacing="-0.20" fill="#2a2a2a" stroke="#2a2a2a" stroke-width="0.1">1.64E-03</text>
<path d="M317.20 282.20V465.55" stroke="#929292" stroke-width="1.45" fill="none"/>
<path d="M259.40 404.30H433.50" stroke="#707070" stroke-width="1.00" fill="none"/>
<path d="M262.3 462.2 C262.3 461.4 262.3 458.9 262.5 457.3 C262.6 455.6 262.7 454.0 262.9 452.4 C263.1 450.8 263.4 449.2 263.7 447.7 C264.0 446.1 264.4 444.6 264.8 443.0 C265.2 441.5 265.7 440.0 266.2 438.5 C266.6 437.0 267.2 435.5 267.7 434.0 C268.3 432.5 268.9 431.1 269.6 429.6 C270.2 428.2 270.9 426.7 271.6 425.3 C272.3 423.9 273.0 422.5 273.8 421.1 C274.5 419.7 275.3 418.3 276.1 417.0 C276.9 415.6 277.8 414.2 278.6 412.9 C279.5 411.5 280.4 410.2 281.2 408.8 C282.1 407.5 283.0 406.2 284.0 404.9 C284.9 403.6 285.8 402.3 286.8 401.0 C287.7 399.7 288.7 398.4 289.6 397.1 C290.6 395.8 291.6 394.6 292.6 393.3 C293.6 392.0 294.6 390.8 295.6 389.5 C296.6 388.3 297.6 387.0 298.7 385.8 C299.7 384.6 300.7 383.3 301.8 382.1 C302.8 380.9 303.9 379.6 304.9 378.4 C306.0 377.2 307.0 376.0 308.1 374.8 C309.2 373.6 310.3 372.4 311.3 371.2 C312.4 370.0 313.5 368.8 314.6 367.6 C315.7 366.4 316.8 365.2 317.8 364.0 C318.9 362.8 320.0 361.6 321.1 360.4 C322.2 359.3 323.3 358.1 324.4 356.9 C325.5 355.7 326.6 354.5 327.7 353.3 C328.8 352.2 329.9 351.0 330.9 349.8 C332.0 348.6 333.1 347.4 334.2 346.3 C335.3 345.1 336.3 343.9 337.4 342.7 C338.5 341.5 339.6 340.3 340.6 339.2 C341.7 338.0 342.8 336.8 343.9 335.6 C344.9 334.4 346.0 333.3 347.1 332.1 C348.1 330.9 349.2 329.7 350.3 328.5 C351.3 327.3 352.4 326.2 353.5 325.0 C354.5 323.8 355.6 322.6 356.7 321.4 C357.7 320.2 358.8 319.1 359.9 317.9 C360.9 316.7 362.0 315.5 363.1 314.3 C364.2 313.1 365.2 312.0 366.3 310.8 C367.4 309.6 368.4 308.4 369.5 307.2 C370.6 306.0 371.7 304.9 372.7 303.7 C373.8 302.5 374.9 301.3 376.0 300.1 C377.1 298.9 378.1 297.8 379.2 296.6 C380.3 295.4 381.4 294.2 382.5 293.0 C383.6 291.9 384.7 290.7 385.8 289.5 C386.9 288.3 388.0 287.1 389.1 285.9 C390.2 284.8 391.8 283.0 392.4 282.4" fill="none" stroke="#222" stroke-width="0.9" stroke-dasharray="1.1 1.25"/>
<path d="M262.3 462.2 C268.2 462.2 291.0 462.3 297.5 462.2 C304.0 462.1 300.0 461.8 301.2 461.6 C302.4 461.3 303.6 461.1 304.8 460.8 C306.0 460.5 307.2 460.2 308.4 459.9 C309.6 459.6 310.7 459.3 311.9 458.9 C313.1 458.6 314.2 458.2 315.4 457.9 C316.5 457.5 317.7 457.1 318.8 456.7 C319.9 456.3 321.1 455.8 322.2 455.4 C323.3 455.0 324.4 454.5 325.5 454.0 C326.6 453.6 327.7 453.1 328.8 452.6 C329.9 452.1 330.9 451.5 332.0 451.0 C333.1 450.5 334.1 449.9 335.2 449.4 C336.2 448.8 337.3 448.2 338.3 447.6 C339.4 447.1 340.4 446.5 341.4 445.9 C342.5 445.2 343.5 444.6 344.5 444.0 C345.5 443.3 346.5 442.7 347.5 442.0 C348.5 441.4 349.5 440.7 350.5 440.0 C351.5 439.4 352.5 438.7 353.5 438.0 C354.5 437.3 355.4 436.5 356.4 435.8 C357.4 435.1 358.3 434.4 359.3 433.6 C360.2 432.9 361.2 432.2 362.1 431.4 C363.1 430.6 364.0 429.9 365.0 429.1 C365.9 428.3 366.8 427.5 367.8 426.8 C368.7 426.0 369.6 425.2 370.5 424.4 C371.5 423.6 372.4 422.8 373.3 421.9 C374.2 421.1 375.1 420.3 376.0 419.5 C376.9 418.7 377.8 417.8 378.7 417.0 C379.6 416.2 380.5 415.3 381.4 414.5 C382.3 413.6 383.2 412.8 384.1 411.9 C384.9 411.1 385.8 410.2 386.7 409.3 C387.6 408.5 388.4 407.6 389.3 406.7 C390.2 405.9 391.1 405.0 391.9 404.1 C392.8 403.2 393.7 402.4 394.5 401.5 C395.4 400.6 396.2 399.7 397.1 398.9 C398.0 398.0 398.8 397.1 399.7 396.2 C400.5 395.3 401.4 394.4 402.2 393.6 C403.1 392.7 403.9 391.8 404.8 390.9 C405.6 390.0 406.5 389.1 407.3 388.3 C408.2 387.4 409.0 386.5 409.9 385.6 C410.7 384.7 411.6 383.9 412.4 383.0 C413.3 382.1 414.1 381.2 414.9 380.4 C415.8 379.5 416.6 378.6 417.5 377.8 C418.3 376.9 419.2 376.0 420.0 375.2 C420.8 374.3 421.7 373.5 422.5 372.6 C423.4 371.8 424.2 370.9 425.1 370.1 C425.9 369.3 426.8 368.4 427.6 367.6 C428.5 366.8 429.3 365.9 430.1 365.1 C431.0 364.3 432.3 363.1 432.7 362.7" fill="none" stroke="#222" stroke-width="0.9" stroke-dasharray="1.1 1.25"/>
<path d="M262.21 462.59L433.50 282.20" stroke="#363636" stroke-width="1.00" fill="none"/>
<g fill="none" stroke="#565656" stroke-width="1.35">
<circle cx="373.0" cy="379.1" r="2.2"/>
<circle cx="322.2" cy="398.6" r="2.2"/>
<circle cx="320.4" cy="406.4" r="2.2"/>
<circle cx="327.6" cy="405.8" r="2.2"/>
<circle cx="304.4" cy="412.0" r="2.2"/>
<circle cx="312.2" cy="414.0" r="2.2"/>
<circle cx="301.4" cy="415.2" r="2.2"/>
<circle cx="288.8" cy="416.2" r="2.2"/>
<circle cx="304.6" cy="420.4" r="2.2"/>
<circle cx="272.8" cy="430.4" r="2.2"/>
<circle cx="343.6" cy="428.2" r="2.2"/>
<circle cx="267.8" cy="450.0" r="2.2"/>
<circle cx="287.6" cy="451.0" r="2.2"/>
<circle cx="291.0" cy="454.2" r="2.2"/>
<circle cx="268.2" cy="456.2" r="2.2"/>
<circle cx="280.2" cy="457.2" r="2.2"/>
<circle cx="263.0" cy="462.6" r="2.2"/>
</g>
<rect x="259.40" y="282.20" width="174.10" height="183.35" fill="none" stroke="#2a2a2a" stroke-width="1.1"/>
<text transform="translate(346.45 277.50) rotate(0.05) scale(1 1.040)" text-anchor="middle" font-size="11.60" fill="#2a2a2a" stroke="#2a2a2a" stroke-width="0.1">Migraine: RVGR-ND</text>
<text transform="translate(235.60 272.80) scale(1 1.055)" font-family="'DejaVu Sans',sans-serif" font-weight="bold" font-size="21.7" fill="#000">e</text>
<text transform="translate(262.21 479.60) rotate(0.05) scale(1 1.060)" text-anchor="middle" font-size="9.00" fill="#2a2a2a" stroke="#2a2a2a" stroke-width="0.1">0</text>
<text transform="translate(250.00 465.94) rotate(0.05) scale(1 1.060)" text-anchor="middle" font-size="9.00" fill="#2a2a2a" stroke="#2a2a2a" stroke-width="0.1">0</text>
<text transform="translate(318.37 479.60) rotate(0.05) scale(1 1.060)" text-anchor="middle" font-size="9.00" fill="#2a2a2a" stroke="#2a2a2a" stroke-width="0.1">2</text>
<text transform="translate(250.00 406.80) rotate(0.05) scale(1 1.060)" text-anchor="middle" font-size="9.00" fill="#2a2a2a" stroke="#2a2a2a" stroke-width="0.1">2</text>
<text transform="translate(374.53 479.60) rotate(0.05) scale(1 1.060)" text-anchor="middle" font-size="9.00" fill="#2a2a2a" stroke="#2a2a2a" stroke-width="0.1">4</text>
<text transform="translate(250.00 347.65) rotate(0.05) scale(1 1.060)" text-anchor="middle" font-size="9.00" fill="#2a2a2a" stroke="#2a2a2a" stroke-width="0.1">4</text>
<text transform="translate(430.69 479.60) rotate(0.05) scale(1 1.060)" text-anchor="middle" font-size="9.00" fill="#2a2a2a" stroke="#2a2a2a" stroke-width="0.1">6</text>
<text transform="translate(250.00 288.51) rotate(0.05) scale(1 1.060)" text-anchor="middle" font-size="9.00" fill="#2a2a2a" stroke="#2a2a2a" stroke-width="0.1">6</text>
<circle cx="272.4" cy="421.4" r="2.4" fill="#000"/><circle cx="273.48" cy="421.79" r="0.8" fill="#e4e4e4"/><path d="M292.0 428.6L274.6 422.4" stroke="#fff" stroke-opacity="0.70" stroke-width="2.4" fill="none"/><path d="M292.0 428.6L280.1 424.3" stroke="#555" stroke-width="0.70" fill="none"/><path d="M274.6 422.4L280.5 423.2L279.7 425.5Z" fill="#111"/>
<text transform="translate(292.60 433.60) rotate(0.05) scale(1 1.060)" text-anchor="start" font-size="9.00" letter-spacing="-0.20" fill="#2a2a2a" stroke="#2a2a2a" stroke-width="0.1">2.18E-02</text>
<circle cx="427.0" cy="374.8" r="2.4" fill="#000"/><circle cx="428.15" cy="374.80" r="0.8" fill="#e4e4e4"/><path d="M446.0 374.8L429.5 374.8" stroke="#fff" stroke-opacity="0.90" stroke-width="3.2" fill="none"/><path d="M446.0 374.8L434.7 374.8" stroke="#cdcdcd" stroke-width="1.70" fill="none"/><path d="M429.5 374.8L434.7 373.4L434.7 376.2Z" fill="#111"/>
<text transform="translate(448.60 377.70) rotate(0.05) scale(1 1.060)" text-anchor="start" font-size="9.00" letter-spacing="-0.20" fill="#2a2a2a" stroke="#2a2a2a" stroke-width="0.1">1.58E-02</text>
<path d="M588.50 282.20V465.55" stroke="#707070" stroke-width="1.00" fill="none"/>
<path d="M502.90 375.30H677.10" stroke="#707070" stroke-width="1.00" fill="none"/>
<path d="M506.9 460.7 C507.1 459.9 507.8 457.6 508.3 456.0 C508.8 454.5 509.3 453.0 509.9 451.4 C510.4 449.9 511.0 448.4 511.6 446.9 C512.2 445.4 512.8 444.0 513.5 442.5 C514.1 441.0 514.8 439.6 515.5 438.2 C516.2 436.7 516.9 435.3 517.7 433.9 C518.4 432.5 519.2 431.0 519.9 429.6 C520.7 428.3 521.5 426.9 522.3 425.5 C523.1 424.1 524.0 422.7 524.8 421.4 C525.7 420.0 526.6 418.7 527.4 417.3 C528.3 416.0 529.2 414.7 530.1 413.4 C531.0 412.0 532.0 410.7 532.9 409.4 C533.9 408.1 534.8 406.8 535.8 405.5 C536.7 404.2 537.7 402.9 538.7 401.7 C539.7 400.4 540.7 399.1 541.7 397.8 C542.7 396.6 543.7 395.3 544.7 394.0 C545.7 392.8 546.8 391.5 547.8 390.3 C548.8 389.0 549.9 387.8 550.9 386.6 C552.0 385.3 553.0 384.1 554.1 382.9 C555.1 381.6 556.2 380.4 557.2 379.2 C558.3 377.9 559.4 376.7 560.4 375.5 C561.5 374.3 562.6 373.1 563.6 371.9 C564.7 370.6 565.8 369.4 566.9 368.2 C567.9 367.0 569.0 365.8 570.1 364.6 C571.2 363.4 572.3 362.2 573.3 361.0 C574.4 359.8 575.5 358.6 576.6 357.4 C577.7 356.2 578.8 355.0 579.9 353.8 C581.0 352.6 582.1 351.4 583.2 350.2 C584.2 349.1 585.3 347.9 586.4 346.7 C587.5 345.5 588.6 344.3 589.7 343.1 C590.8 341.9 591.9 340.7 593.0 339.6 C594.1 338.4 595.2 337.2 596.3 336.0 C597.4 334.8 598.5 333.7 599.6 332.5 C600.7 331.3 601.8 330.1 602.9 328.9 C604.0 327.7 605.1 326.6 606.2 325.4 C607.3 324.2 608.4 323.0 609.5 321.8 C610.6 320.7 611.7 319.5 612.8 318.3 C613.9 317.1 615.0 315.9 616.1 314.7 C617.2 313.6 618.3 312.4 619.4 311.2 C620.5 310.0 621.6 308.8 622.7 307.6 C623.7 306.4 624.8 305.2 625.9 304.0 C627.0 302.9 628.1 301.7 629.2 300.5 C630.3 299.3 631.3 298.1 632.4 296.9 C633.5 295.7 634.6 294.5 635.6 293.3 C636.7 292.1 637.8 290.9 638.8 289.7 C639.9 288.5 641.0 287.3 642.0 286.0 C643.1 284.8 644.7 283.0 645.2 282.4" fill="none" stroke="#222" stroke-width="0.9" stroke-dasharray="1.1 1.25"/>
<path d="M506.9 460.7 C507.6 460.7 509.6 460.7 511.0 460.6 C512.4 460.5 514.0 460.2 515.5 460.0 C517.0 459.7 518.5 459.5 520.0 459.2 C521.4 458.8 522.9 458.5 524.3 458.1 C525.8 457.8 527.2 457.3 528.6 456.9 C530.1 456.5 531.5 456.0 532.8 455.5 C534.2 455.0 535.6 454.5 537.0 454.0 C538.4 453.4 539.7 452.8 541.1 452.2 C542.4 451.6 543.7 451.0 545.1 450.4 C546.4 449.7 547.7 449.0 549.0 448.4 C550.3 447.7 551.6 446.9 552.9 446.2 C554.2 445.5 555.4 444.7 556.7 444.0 C558.0 443.2 559.2 442.4 560.5 441.6 C561.7 440.8 563.0 439.9 564.2 439.1 C565.4 438.3 566.7 437.4 567.9 436.5 C569.1 435.7 570.3 434.8 571.5 433.9 C572.7 433.0 573.9 432.1 575.1 431.2 C576.3 430.2 577.5 429.3 578.6 428.4 C579.8 427.4 581.0 426.5 582.2 425.5 C583.3 424.6 584.5 423.6 585.6 422.6 C586.8 421.7 587.9 420.7 589.1 419.7 C590.2 418.7 591.4 417.8 592.5 416.8 C593.6 415.8 594.8 414.8 595.9 413.8 C597.0 412.8 598.2 411.8 599.3 410.8 C600.4 409.8 601.5 408.8 602.6 407.8 C603.7 406.8 604.8 405.8 606.0 404.7 C607.1 403.7 608.2 402.7 609.3 401.7 C610.4 400.6 611.5 399.6 612.6 398.6 C613.6 397.6 614.7 396.5 615.8 395.5 C616.9 394.5 618.0 393.4 619.1 392.4 C620.2 391.3 621.2 390.3 622.3 389.3 C623.4 388.2 624.5 387.2 625.6 386.1 C626.6 385.1 627.7 384.0 628.8 383.0 C629.8 381.9 630.9 380.9 632.0 379.8 C633.0 378.8 634.1 377.7 635.2 376.7 C636.2 375.6 637.3 374.6 638.4 373.5 C639.4 372.4 640.5 371.4 641.5 370.3 C642.6 369.3 643.7 368.2 644.7 367.1 C645.8 366.1 646.8 365.0 647.9 364.0 C648.9 362.9 650.0 361.9 651.1 360.8 C652.1 359.7 653.2 358.7 654.2 357.6 C655.3 356.6 656.3 355.5 657.4 354.5 C658.5 353.4 659.5 352.3 660.6 351.3 C661.6 350.2 662.7 349.2 663.7 348.1 C664.8 347.1 665.9 346.0 666.9 345.0 C668.0 343.9 669.0 342.9 670.1 341.8 C671.2 340.8 672.2 339.8 673.3 338.7 C674.4 337.7 676.0 336.1 676.5 335.6" fill="none" stroke="#222" stroke-width="0.9" stroke-dasharray="1.1 1.25"/>
<path d="M507.05 461.18L677.10 282.20" stroke="#363636" stroke-width="0.95" fill="none"/>
<g fill="none" stroke="#565656" stroke-width="1.35">
<circle cx="549.4" cy="393.0" r="2.2"/>
<circle cx="586.8" cy="404.0" r="2.2"/>
<circle cx="543.4" cy="405.2" r="2.2"/>
<circle cx="536.6" cy="409.4" r="2.2"/>
<circle cx="547.4" cy="420.2" r="2.2"/>
<circle cx="540.6" cy="422.6" r="2.2"/>
<circle cx="536.0" cy="429.4" r="2.2"/>
<circle cx="532.6" cy="429.4" r="2.2"/>
<circle cx="531.0" cy="433.4" r="2.2"/>
<circle cx="518.4" cy="434.0" r="2.2"/>
<circle cx="517.4" cy="440.2" r="2.2"/>
<circle cx="528.0" cy="440.6" r="2.2"/>
<circle cx="528.6" cy="445.0" r="2.2"/>
<circle cx="550.2" cy="441.6" r="2.2"/>
<circle cx="512.0" cy="446.2" r="2.2"/>
<circle cx="545.2" cy="448.4" r="2.2"/>
<circle cx="515.8" cy="452.4" r="2.2"/>
<circle cx="536.4" cy="453.4" r="2.2"/>
</g>
<rect x="502.90" y="282.20" width="174.20" height="183.35" fill="none" stroke="#2a2a2a" stroke-width="1.1"/>
<text transform="translate(590.00 277.50) rotate(0.05) scale(1 1.040)" text-anchor="middle" font-size="11.60" fill="#2a2a2a" stroke="#2a2a2a" stroke-width="0.1">Migraine: TMT</text>
<text transform="translate(486.20 272.50) scale(1 1.055)" font-family="'DejaVu Sans',sans-serif" font-weight="bold" font-size="21.7" fill="#000">f</text>
<text transform="translate(507.05 479.60) rotate(0.05) scale(1 1.060)" text-anchor="middle" font-size="9.00" fill="#2a2a2a" stroke="#2a2a2a" stroke-width="0.1">0</text>
<text transform="translate(493.50 464.53) rotate(0.05) scale(1 1.060)" text-anchor="middle" font-size="9.00" fill="#2a2a2a" stroke="#2a2a2a" stroke-width="0.1">0</text>
<text transform="translate(590.00 479.60) rotate(0.05) scale(1 1.060)" text-anchor="middle" font-size="9.00" fill="#2a2a2a" stroke="#2a2a2a" stroke-width="0.1">2</text>
<text transform="translate(493.50 377.23) rotate(0.05) scale(1 1.060)" text-anchor="middle" font-size="9.00" fill="#2a2a2a" stroke="#2a2a2a" stroke-width="0.1">2</text>
<text transform="translate(672.95 479.60) rotate(0.05) scale(1 1.060)" text-anchor="middle" font-size="9.00" fill="#2a2a2a" stroke="#2a2a2a" stroke-width="0.1">4</text>
<text transform="translate(493.50 289.92) rotate(0.05) scale(1 1.060)" text-anchor="middle" font-size="9.00" fill="#2a2a2a" stroke="#2a2a2a" stroke-width="0.1">4</text>
<circle cx="545.2" cy="390.6" r="2.4" fill="#000"/><circle cx="546.35" cy="390.58" r="0.8" fill="#e4e4e4"/><path d="M564.0 390.2L547.8 390.5" stroke="#fff" stroke-opacity="0.80" stroke-width="2.6" fill="none"/><path d="M564.0 390.2L553.4 390.4" stroke="#9a9a9a" stroke-width="1.00" fill="none"/><path d="M547.8 390.5L553.4 389.2L553.4 391.6Z" fill="#111"/>
<text transform="translate(566.60 393.20) rotate(0.05) scale(1 1.060)" text-anchor="start" font-size="9.00" letter-spacing="-0.20" fill="#2a2a2a" stroke="#2a2a2a" stroke-width="0.1">1.81E-02</text>
<circle cx="522.6" cy="423.6" r="2.4" fill="#000"/><circle cx="523.72" cy="423.88" r="0.8" fill="#e4e4e4"/><path d="M538.5 427.6L525.0 424.2" stroke="#fff" stroke-opacity="0.70" stroke-width="2.4" fill="none"/><path d="M538.5 427.6L530.6 425.6" stroke="#555" stroke-width="0.70" fill="none"/><path d="M525.0 424.2L530.9 424.5L530.3 426.8Z" fill="#111"/>
<text transform="translate(543.60 432.60) rotate(0.05) scale(1 1.060)" text-anchor="start" font-size="9.00" letter-spacing="-0.20" fill="#2a2a2a" stroke="#2a2a2a" stroke-width="0.1">2.32E-02</text>
</svg>
</body></html>
